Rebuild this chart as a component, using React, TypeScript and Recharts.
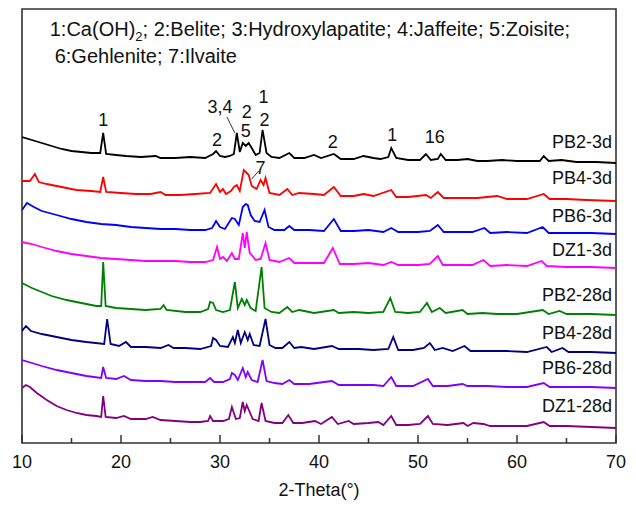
import React from 'react';
import { LineChart, Line, XAxis, YAxis, ReferenceArea, ReferenceDot, ReferenceLine } from 'recharts';

type Pt = [number, number];

// 2-Theta (deg) vs stacked intensity (a.u.)
const PB2_3d: Pt[] = [
  [10, 306], [11, 303], [12, 300], [13, 297], [14, 294], [15, 292], [16, 291], [17, 290], [17.9, 290], [18.2, 310], [18.5, 289],
  [19.5, 288], [20.5, 287], [22, 286], [23.5, 287], [24, 285], [25.5, 285], [27, 286], [28.5, 285], [29.3, 289], [29.6, 292],
  [30, 287], [30.5, 286], [31, 287], [31.4, 289], [31.7, 310], [32, 291], [32.3, 300], [32.6, 297], [32.9, 300], [33.2, 295],
  [33.6, 288], [34, 290], [34.3, 313], [34.7, 290], [35.2, 286], [36, 285], [37, 290], [37.5, 285], [38.5, 285], [39.5, 288],
  [40.2, 285], [41.5, 289], [42.2, 284], [43.5, 284], [44.5, 287], [45.5, 285], [46.2, 284], [47, 286], [47.3, 295], [47.8, 285],
  [49, 283], [50.2, 283], [50.8, 289], [51.3, 283], [52, 284], [52.3, 289], [52.8, 283], [54, 283], [55, 284], [56, 282],
  [57, 282], [58.5, 283], [60, 282], [61.5, 282], [62.3, 282], [62.7, 287], [63.2, 282], [64.5, 283], [66, 281], [68, 281], [70, 280],
];

const PB4_3d: Pt[] = [
  [10, 262], [10.8, 262], [11.3, 269], [11.7, 261], [12.5, 259], [14, 256], [15.5, 253], [17, 252], [17.9, 251], [18.2, 266],
  [18.5, 251], [20, 250], [21.5, 249], [23, 249], [24, 251], [24.5, 248], [26, 248], [27.5, 249], [29, 250], [29.6, 259],
  [30, 251], [30.3, 254], [30.6, 249], [31.1, 252], [31.4, 256], [31.7, 258], [32, 252], [32.4, 273], [32.7, 270], [32.9, 268],
  [33.2, 257], [33.7, 254], [34.1, 263], [34.4, 258], [34.6, 265], [35, 250], [36, 248], [36.8, 254], [37.3, 248], [38, 250],
  [39.5, 249], [40.5, 248], [41.5, 256], [42.2, 247], [43.5, 247], [44.5, 249], [45.5, 247], [47.3, 253], [47.8, 246], [49, 246],
  [50.8, 248], [51.3, 245], [52, 251], [52.6, 245], [54, 245], [56, 245], [58, 247], [59, 244], [61, 244], [62.7, 249],
  [63.3, 244], [65, 244], [67, 243], [70, 242],
];

const PB6_3d: Pt[] = [
  [10, 233], [10.5, 240], [11.2, 236], [12, 232], [13.5, 228], [15, 224], [16.5, 221], [18, 219], [19.5, 218], [21, 216],
  [22.5, 215], [24, 214], [25.5, 214], [27, 213], [28.5, 213], [29.2, 215], [29.6, 222], [30, 216], [30.5, 214], [31.2, 225],
  [31.5, 224], [31.9, 218], [32.3, 236], [32.6, 239], [32.8, 238], [33.1, 228], [33.5, 222], [34, 221], [34.5, 233], [34.9, 216],
  [35.5, 213], [36.5, 213], [37, 217], [37.5, 213], [39, 213], [40.5, 212], [41.5, 224], [42.2, 212], [43.5, 212], [45, 213],
  [46.5, 211], [47.3, 215], [48, 211], [50, 211], [51.2, 212], [52, 218], [52.6, 211], [54, 211], [55.5, 211], [56.7, 215],
  [57.3, 210], [59, 211], [61, 210], [62.6, 216], [63.2, 210], [65, 210], [67.5, 210], [70, 209],
];

const DZ1_3d: Pt[] = [
  [10, 201], [11, 199], [12, 196], [13.5, 192], [15, 189], [16.5, 187], [18, 185], [19.5, 184], [21, 183], [22.5, 182],
  [24, 182], [25.5, 182], [27, 181], [28.5, 181], [29.3, 183], [29.7, 196], [30, 184], [30.3, 186], [30.7, 182], [31.2, 190],
  [31.5, 184], [31.9, 184], [32.3, 210], [32.5, 195], [32.7, 211], [33, 190], [33.2, 188], [33.6, 183], [34.1, 184], [34.6, 200],
  [35, 183], [36, 181], [37, 185], [37.5, 180], [39, 180], [40.5, 180], [41.4, 195], [42.1, 179], [43.5, 179], [45, 180],
  [46.5, 178], [47.3, 181], [48, 178], [50, 178], [51.2, 179], [52, 187], [52.5, 178], [54, 178], [55.5, 178], [56.6, 183],
  [57.3, 177], [59, 178], [61, 177], [62.5, 182], [63, 177], [65, 176], [67.5, 176], [70, 175],
];

const PB2_28d: Pt[] = [
  [10, 160], [11, 155], [12, 151], [13, 147], [14.5, 143], [16, 140], [17.5, 137], [18, 137], [18.2, 181], [18.45, 137],
  [19.5, 135], [21, 134], [22.5, 133], [24, 134], [24.3, 138], [24.6, 133], [26.5, 131], [28, 131], [28.8, 134], [29, 141],
  [29.3, 140], [29.6, 133], [30.3, 131], [31, 133], [31.5, 161], [31.8, 135], [32.2, 144], [32.5, 138], [32.7, 143], [33.1, 135],
  [33.6, 132], [34.2, 176], [34.5, 135], [35.2, 131], [36, 130], [36.8, 136], [37.3, 131], [38, 133], [39.5, 130], [41.5, 133],
  [42, 130], [43.5, 131], [45, 130], [46.5, 131], [47.2, 145], [47.7, 131], [49, 130], [50.2, 131], [50.9, 140], [51.4, 131],
  [52.2, 135], [52.8, 130], [54.5, 133], [55, 129], [56.5, 130], [58, 129], [60, 129], [62.6, 133], [63.2, 129], [64.3, 132],
  [65, 129], [67.5, 129], [70, 128],
];

const PB4_28d: Pt[] = [
  [10, 112], [10.4, 117], [10.9, 112], [12, 109], [13.5, 106], [15, 103], [16.5, 101], [18.3, 99], [18.6, 124], [18.95, 99],
  [19.8, 97], [20.5, 101], [21, 96], [22.5, 96], [24, 95], [24.8, 98], [25.3, 95], [26.5, 95], [28, 94], [29.1, 97],
  [29.3, 105], [29.6, 103], [30, 97], [30.8, 96], [31.3, 106], [31.5, 100], [31.8, 113], [32.1, 100], [32.5, 111], [32.8, 103],
  [33, 109], [33.4, 98], [34, 97], [34.6, 124], [35, 98], [35.6, 95], [36.3, 95], [37, 101], [37.5, 95], [38.2, 96],
  [39.5, 94], [41.3, 97], [42, 94], [44, 94], [45.5, 93], [47, 94], [47.5, 106], [48, 93], [49.5, 93], [50.6, 95],
  [51.2, 100], [51.7, 93], [52.5, 95], [53.5, 92], [54.7, 97], [55.3, 92], [57, 92], [59, 92], [61, 91], [63, 96],
  [63.5, 91], [64.6, 95], [65.2, 91], [67.5, 91], [70, 90],
];

const PB6_28d: Pt[] = [
  [10, 83], [11, 80], [12, 77], [13.5, 73], [15, 70], [16.5, 67], [18, 65], [18.2, 76], [18.5, 65], [19.5, 64],
  [20.3, 67], [21, 63], [22.5, 62], [24, 62], [25.5, 61], [27, 61], [28.5, 61], [29, 65], [29.4, 61], [30.3, 61],
  [31, 64], [31.2, 70], [31.5, 68], [31.8, 63], [32.3, 75], [32.6, 66], [32.8, 71], [33.2, 63], [33.8, 61], [34.3, 83],
  [34.7, 62], [35.5, 60], [36.3, 59], [37, 63], [37.5, 59], [39, 59], [41.3, 62], [42, 58], [44, 58], [45.5, 58],
  [46.5, 57], [47.3, 66], [47.8, 57], [49.5, 57], [51, 64], [51.5, 57], [53, 57], [54.5, 59], [55, 57], [57, 57],
  [59, 56], [61, 56], [62.7, 60], [63.3, 56], [65, 56], [67.5, 56], [70, 55],
];

const DZ1_28d: Pt[] = [
  [10, 55], [10.4, 58], [10.8, 56], [11.5, 50], [12.5, 43], [13.5, 37], [14.5, 33], [15.5, 30], [16.5, 28], [17.5, 27],
  [18, 26], [18.2, 47], [18.45, 26], [19.5, 25], [20.3, 27], [21, 24], [22.5, 24], [23.2, 26], [24, 23], [25.5, 22],
  [27, 21], [28, 21], [28.8, 22], [29, 27], [29.3, 22], [30.3, 22], [30.9, 24], [31.2, 36], [31.6, 24], [32, 25],
  [32.3, 41], [32.5, 32], [32.7, 38], [33, 31], [33.3, 24], [33.9, 22], [34.2, 40], [34.6, 22], [35.5, 20], [36.3, 20],
  [36.9, 28], [37.4, 20], [38.3, 20], [39.6, 22], [40.2, 19], [41.3, 26], [41.9, 19], [43, 22], [43.5, 19], [45, 20],
  [46, 21], [46.5, 18], [47.3, 27], [47.8, 18], [49, 18], [50.2, 19], [51, 27], [51.5, 19], [53, 18], [54.6, 20],
  [55, 17], [55.6, 20], [56.6, 19], [57.3, 17], [59, 17], [61, 17], [62.7, 21], [63.3, 17], [65, 17], [67.5, 16], [70, 15],
];

const sampleNames = ['PB2-3d', 'PB4-3d', 'PB6-3d', 'DZ1-3d', 'PB2-28d', 'PB4-28d', 'PB6-28d', 'DZ1-28d'];
const sampleColors = ['#000000', '#ff0000', '#0000ff', '#ff00ff', '#008000', '#000080', '#8000ff', '#800080'];
const samplePatterns = [PB2_3d, PB4_3d, PB6_3d, DZ1_3d, PB2_28d, PB4_28d, PB6_28d, DZ1_28d];
const sampleLabelLevels = [301, 265, 227, 193, 148, 110, 75, 37];

const xTicks = [10, 15, 20, 25, 30, 35, 40, 45, 50, 55, 60, 65, 70];

// phase marks: [2-theta, level, text]
const phaseMarks: [number, number, string][] = [
  [18.2, 323, '1'], [29.7, 303, '2'], [30.0, 336, '3,4'], [32.7, 331, '2'], [32.6, 312, '5'],
  [34.4, 346, '1'], [34.5, 323, '2'], [34.1, 275, '7'], [41.4, 301, '2'], [47.4, 308, '1'], [51.7, 306, '16'],
];

const legendLine1 = ['1:Ca(OH)', '2', '; 2:Belite; 3:Hydroxylapatite; 4:Jaffeite; 5:Zoisite;'];
const legendLine2 = '6:Gehlenite; 7:Ilvaite';

const FONT = "'Liberation Sans', Arial, sans-serif";

const toRows = (pts: Pt[]) => pts.map(([t, i]) => ({ t, i }));

const XTick = (props: any) => {
  const { x, y, payload } = props;
  const major = payload.value % 10 === 0;
  return (
    <g>
      <line x1={x} x2={x} y1={y} y2={y - (major ? 8 : 5)} stroke="#333" strokeWidth={1.5} />
      {major && (
        <text x={x} y={y + 25} textAnchor="middle" fontSize={18} fill="#111" fontFamily={FONT}>
          {payload.value}
        </text>
      )}
    </g>
  );
};

const textShape = (label: string, anchor: 'start' | 'middle' | 'end') => (p: any) => (
  <text x={p.cx} y={p.cy} textAnchor={anchor} dominantBaseline="central" fontSize={18} fill="#111" fontFamily={FONT}>
    {label}
  </text>
);

const legendShape1 = (p: any) => (
  <text x={p.cx} y={p.cy} textAnchor="start" fontSize={20} fill="#111" fontFamily={FONT}>
    <tspan>{legendLine1[0]}</tspan>
    <tspan dy={5} fontSize={13}>{legendLine1[1]}</tspan>
    <tspan dy={-5}>{legendLine1[2]}</tspan>
  </text>
);
const legendShape2 = (p: any) => (
  <text x={p.cx} y={p.cy} textAnchor="start" fontSize={20} fill="#111" fontFamily={FONT}>
    {legendLine2}
  </text>
);

export default function App() {
  return (
    <div style={{ position: 'absolute', left: 0, top: 0, background: '#fff' }}>
      <LineChart width={636} height={505} margin={{ top: 9, right: 20, left: 22, bottom: 0 }}>
        <XAxis
          dataKey="t"
          type="number"
          domain={[10, 70]}
          ticks={xTicks}
          interval={0}
          allowDataOverflow
          axisLine={false}
          tickLine={false}
          tickSize={0}
          tickMargin={0}
          height={62}
          tick={<XTick />}
          label={{ value: '2-Theta(°)', position: 'insideBottom', offset: 9, fontSize: 18, fill: '#111', fontFamily: FONT }}
        />
        <YAxis type="number" domain={[0, 434]} hide allowDataOverflow />
        <ReferenceArea x1={10} x2={70} y1={0} y2={434} fill="none" stroke="#333" strokeWidth={1.6} ifOverflow="visible" />
        {samplePatterns.map((pts, k) => (
          <Line
            key={sampleNames[k]}
            data={toRows(pts)}
            dataKey="i"
            name={sampleNames[k]}
            type="linear"
            stroke={sampleColors[k]}
            strokeWidth={1.8}
            dot={false}
            activeDot={false}
            isAnimationActive={false}
          />
        ))}
        {sampleNames.map((n, k) => (
          <ReferenceDot key={'lab' + n} x={69.6} y={sampleLabelLevels[k]} r={1} shape={textShape(n, 'end')} />
        ))}
        {phaseMarks.map(([t, lv, s], k) => (
          <ReferenceDot key={'pm' + k} x={t} y={lv} r={1} shape={textShape(s, 'middle')} />
        ))}
        <ReferenceLine segment={[{ x: 30.7, y: 326 }, { x: 31.5, y: 310 }]} stroke="#333" strokeWidth={1} />
        <ReferenceLine segment={[{ x: 33.9, y: 272 }, { x: 33.2, y: 264 }]} stroke="#333" strokeWidth={1} />
        <ReferenceDot x={12.8} y={407} r={1} shape={legendShape1} />
        <ReferenceDot x={13.3} y={380} r={1} shape={legendShape2} />
      </LineChart>
    </div>
  );
}
